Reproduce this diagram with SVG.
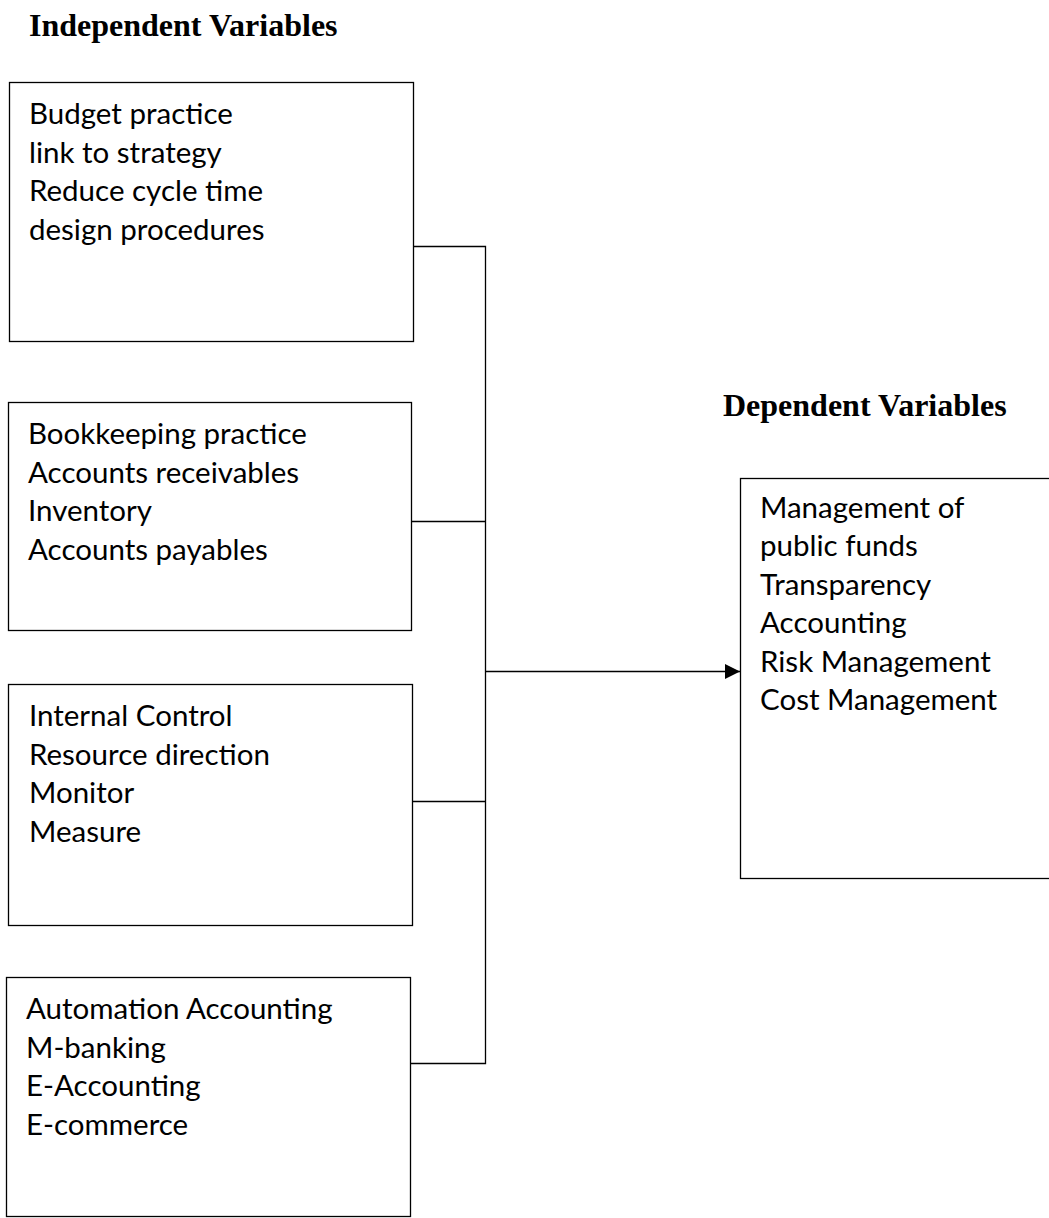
<svg xmlns="http://www.w3.org/2000/svg" width="1049" height="1218" viewBox="0 0 1049 1218">
<defs>
<marker id="ah" markerWidth="15" markerHeight="15" refX="15" refY="7.5" orient="auto" markerUnits="userSpaceOnUse">
<path d="M0,0 L15,7.5 L0,15 Z" fill="#000"/>
</marker>
</defs>
<style>
.box{fill:#fff;stroke:#000;stroke-width:1.3}
.t{font-family:Lato,"Liberation Sans",sans-serif;font-size:29.5px;fill:#000}
.h{font-family:"Liberation Serif","Times New Roman",serif;font-size:32px;font-weight:bold;fill:#000}
.c{fill:none;stroke:#000;stroke-width:1.3}
</style>
<rect width="1049" height="1218" fill="#fff"/>
<text class="h" x="29" y="36">Independent Variables</text>
<text class="h" x="723" y="416">Dependent Variables</text>
<g id="connectors">
<path class="c" d="M413.5,246.5 H485.5 V1063.5 H410.5"/>
<path class="c" d="M411.5,521.5 H485.5"/>
<path class="c" d="M412.5,801.5 H485.5"/>
<path class="c" d="M485.5,671.5 H740" marker-end="url(#ah)"/>
</g>
<g id="budget">
<rect class="box" x="9.5" y="82.5" width="404" height="259"/>
<text class="t" x="29" y="123.5">Budget practice</text>
<text class="t" x="29" y="162.5">link to strategy</text>
<text class="t" x="29" y="201">Reduce cycle time</text>
<text class="t" x="29" y="239.5">design procedures</text>
</g>
<g id="bookkeeping">
<rect class="box" x="8.5" y="402.5" width="403" height="228"/>
<text class="t" x="28" y="443.5">Bookkeeping practice</text>
<text class="t" x="28" y="482.5">Accounts receivables</text>
<text class="t" x="28" y="521">Inventory</text>
<text class="t" x="28" y="559.5">Accounts payables</text>
</g>
<g id="internal">
<rect class="box" x="8.5" y="684.5" width="404" height="241"/>
<text class="t" x="29" y="725.5">Internal Control</text>
<text class="t" x="29" y="764.5">Resource direction</text>
<text class="t" x="29" y="803">Monitor</text>
<text class="t" x="29" y="841.5">Measure</text>
</g>
<g id="automation">
<rect class="box" x="6.5" y="977.5" width="404" height="239"/>
<text class="t" x="26" y="1018.5">Automation Accounting</text>
<text class="t" x="26" y="1057.5">M-banking</text>
<text class="t" x="26" y="1096">E-Accounting</text>
<text class="t" x="26" y="1134.5">E-commerce</text>
</g>
<g id="dependent">
<rect class="box" x="740.5" y="478.5" width="320" height="400"/>
<text class="t" x="760" y="517.5">Management of</text>
<text class="t" x="760" y="556">public funds</text>
<text class="t" x="760" y="594.5">Transparency</text>
<text class="t" x="760" y="633">Accounting</text>
<text class="t" x="760" y="671.5">Risk Management</text>
<text class="t" x="760" y="710">Cost Management</text>
</g>
</svg>
